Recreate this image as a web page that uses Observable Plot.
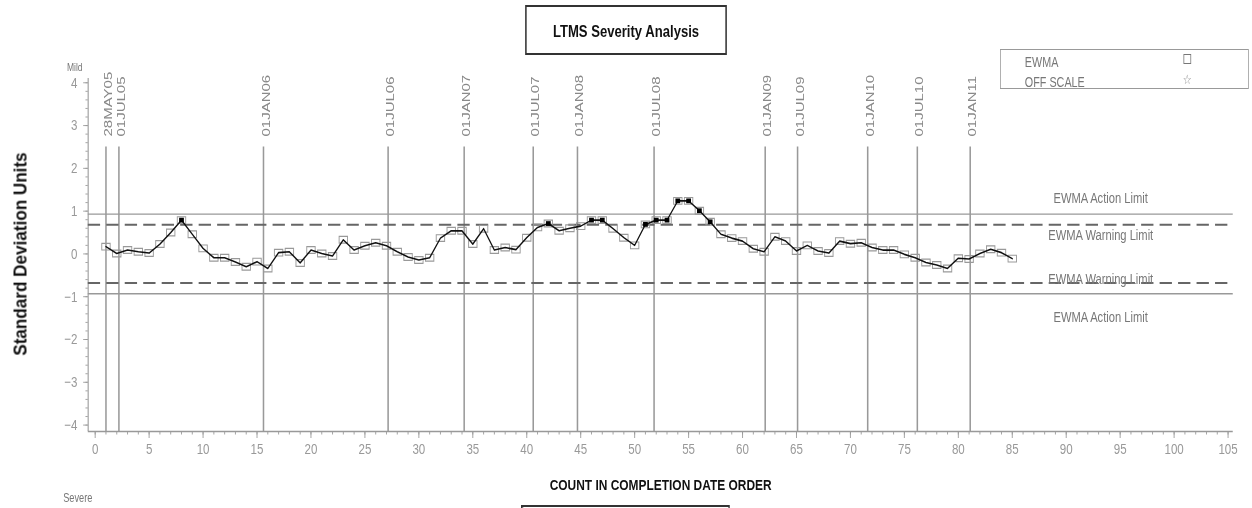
<!DOCTYPE html>
<html><head><meta charset="utf-8">
<script src="https://cdn.jsdelivr.net/npm/d3@7"></script>
<script src="https://cdn.jsdelivr.net/npm/@observablehq/plot@0.6"></script>
<style>
html,body{margin:0;padding:0;background:#fff;overflow:hidden}
#page{position:relative;width:1252px;height:508px;overflow:hidden;font-family:'Liberation Sans',Arial,sans-serif;background:#fff}
#wrap{position:absolute;left:0;top:0;width:1626px;height:508px;transform-origin:0 0}
#chart{position:absolute;left:0;top:0}
.abs{position:absolute;white-space:nowrap;line-height:1}
#title{left:682px;top:5px;width:262px;height:50px;border:2px solid #333;box-sizing:border-box;display:flex;align-items:center;justify-content:center;font-weight:bold;font-size:17px;color:#111;padding-top:3px}
#legend{left:1299px;top:49px;width:323px;height:40px;border:1px solid #999;box-sizing:border-box}
.lgt{position:absolute;left:31px;font-size:14px;color:#777;line-height:16px;white-space:nowrap}
.lgs{position:absolute;left:236px;width:12px;height:12px;line-height:12px;text-align:center;color:#888;font-size:13px;font-family:'DejaVu Sans',sans-serif}
#mild{left:87px;top:62px;font-size:11px;color:#777}
#severe{left:82px;top:492px;font-size:12px;color:#777}
#xlabel{left:858px;top:485px;transform:translate(-50%,-50%);font-weight:bold;font-size:15.5px;color:#111}
#bottombox{left:677px;top:505px;width:271px;height:20px;border:2px solid #333;box-sizing:border-box}
#ylabel{position:absolute;left:20px;top:254px;width:0;height:0}
#ylabel span{position:absolute;left:0;top:0;white-space:nowrap;font-weight:bold;font-size:19px;color:#111;line-height:1;transform-origin:0 0;transform:rotate(-90deg) scaleX(0.9) translate(-50%,-50%)}
</style>
</head>
<body>
<div id="page">
  <div id="wrap">
    <div id="chart"></div>
    <div id="title" class="abs">LTMS Severity Analysis</div>
    <div id="legend" class="abs">
      <div class="lgt" style="top:4px">EWMA</div>
      <div class="lgt" style="top:24px">OFF SCALE</div>
      <div class="lgs" style="top:3px"><svg width="12" height="12"><rect x="1.5" y="1.5" width="9" height="9" fill="none" stroke="#777" stroke-width="1"/></svg></div>
      <div class="lgs" style="top:24px">☆</div>
    </div>
    <div id="mild" class="abs">Mild</div>
    <div id="severe" class="abs">Severe</div>
    <div id="xlabel" class="abs">COUNT IN COMPLETION DATE ORDER</div>
    <div id="bottombox" class="abs"></div>
  </div>
  <div id="ylabel"><span>Standard Deviation Units</span></div>
</div>
<script>
// ---- data ----
const counts = d3.range(1, 86);
const ewma = [
  0.17, 0.01, 0.09, 0.05, 0.02, 0.23, 0.50, 0.79, 0.46, 0.13,
  -0.09, -0.09, -0.19, -0.30, -0.18, -0.34, 0.03, 0.05, -0.21, 0.09,
  0.01, -0.05, 0.33, 0.09, 0.19, 0.26, 0.19, 0.05, -0.07, -0.14,
  -0.09, 0.37, 0.54, 0.54, 0.23, 0.59, 0.09, 0.15, 0.10, 0.38,
  0.62, 0.71, 0.54, 0.60, 0.65, 0.79, 0.79, 0.59, 0.38, 0.20,
  0.69, 0.79, 0.79, 1.24, 1.24, 1.01, 0.75, 0.46, 0.37, 0.30,
  0.12, 0.05, 0.40, 0.30, 0.07, 0.20, 0.07, 0.02, 0.30, 0.24,
  0.26, 0.15, 0.09, 0.09, -0.01, -0.09, -0.20, -0.26, -0.34, -0.10,
  -0.12, 0.01, 0.11, 0.03, -0.11
];
const dateLabels = ["28MAY05","01JUL05","01JAN06","01JUL06","01JAN07","01JUL07","01JAN08","01JUL08","01JAN09","01JUL09","01JAN10","01JUL10","01JAN11"];
const datePositions = [1.0, 2.2, 15.6, 27.15, 34.2, 40.6, 44.7, 51.8, 62.1, 65.1, 71.6, 76.2, 81.1];
const actionLimit = 0.93;
const warningLimit = 0.68;
const limitNames = ["EWMA Action Limit", "EWMA Warning Limit", "EWMA Warning Limit", "EWMA Action Limit"];
const limitValues = [actionLimit, warningLimit, -warningLimit, -actionLimit];
const xMajorTicks = d3.range(0, 106, 5);
const xMinorTicks = d3.range(0, 106, 1);
const yMajorTicks = d3.range(-4, 5, 1);
const yMinorTicks = d3.range(-20, 21, 1).map(d => d / 5);
const xDomain = [-0.65, 105.47];
const yDomain = [-4.15, 4.1];
const refTop = 2.5;

// ---- layout ----
const W = 1626, H = 508, K = 1252 / W;
document.getElementById("wrap").style.transform = `scaleX(${K})`;

const points = counts.map((c, i) => ({count: c, value: ewma[i]}));
const offScale = points.filter(d => d.value > warningLimit);
const dates = dateLabels.map((label, i) => ({label, pos: datePositions[i]}));
const limits = limitNames.map((name, i) => ({name, value: limitValues[i]}));

function rectSymbol(aspect) {
  return {draw(ctx, size) {
    const h = Math.sqrt(size), w = h * aspect / K;
    ctx.moveTo(-w / 2, -h / 2); ctx.lineTo(w / 2, -h / 2); ctx.lineTo(w / 2, h / 2); ctx.lineTo(-w / 2, h / 2); ctx.closePath();
  }};
}
const openSym = rectSymbol(1.25), fillSym = rectSymbol(1.0);
const labelDy = [-16, 11, -4, 24];
const font = "'Liberation Sans', Arial, sans-serif";

const chart = Plot.plot({
  width: W, height: H,
  marginLeft: 114, marginRight: 25, marginTop: 78, marginBottom: 77,
  x: {domain: xDomain},
  y: {domain: yDomain},
  style: {fontFamily: font, background: "transparent"},
  marks: [
    Plot.axisY({ticks: yMinorTicks, tickSize: 3, tickFormat: () => "", label: null, color: "#999"}),
    Plot.axisY({ticks: yMajorTicks, tickSize: 6, tickPadding: 8, fontSize: 15, label: null, color: "#999"}),
    Plot.axisX({ticks: xMinorTicks, tickSize: 3.5, tickFormat: () => "", label: null, color: "#999"}),
    Plot.axisX({ticks: xMajorTicks, tickSize: 7, tickPadding: 5, fontSize: 15, label: null, color: "#999"}),
    Plot.ruleY([yDomain[0]], {stroke: "#999", strokeWidth: 1.5}),
    Plot.ruleX([xDomain[0]], {stroke: "#999", strokeWidth: 1.4}),
    Plot.ruleX(dates, {x: "pos", y1: () => refTop, y2: () => yDomain[0], stroke: "#999", strokeWidth: 2}),
    Plot.text(dates, {x: "pos", y: () => refTop, text: "label", rotate: -90, textAnchor: "start", dx: 3, dy: -10.5, fontSize: 15, fill: "#888"}),
    Plot.ruleY(limits.filter(d => Math.abs(d.value) === actionLimit), {y: "value", stroke: "#999", strokeWidth: 1.4}),
    Plot.ruleY(limits.filter(d => Math.abs(d.value) === warningLimit), {y: "value", stroke: "#666", strokeWidth: 2, strokeDasharray: "16,8"}),
    ...labelDy.map((dy, i) => Plot.text([limits[i]], {y: "value", text: "name", frameAnchor: "right", dx: -172, dy, textAnchor: "middle", fontSize: 14.5, fill: "#777"})),
    Plot.dot(points, {x: "count", y: "value", symbol: openSym, r: 3.8, stroke: "#999", strokeWidth: 1.2, fill: "none"}),
    Plot.line(points, {x: "count", y: "value", stroke: "#111", strokeWidth: 1.6}),
    Plot.dot(offScale, {x: "count", y: "value", symbol: fillSym, r: 2.7, fill: "#000", stroke: "none"})
  ]
});
document.getElementById("chart").appendChild(chart);
</script>
</body></html>
